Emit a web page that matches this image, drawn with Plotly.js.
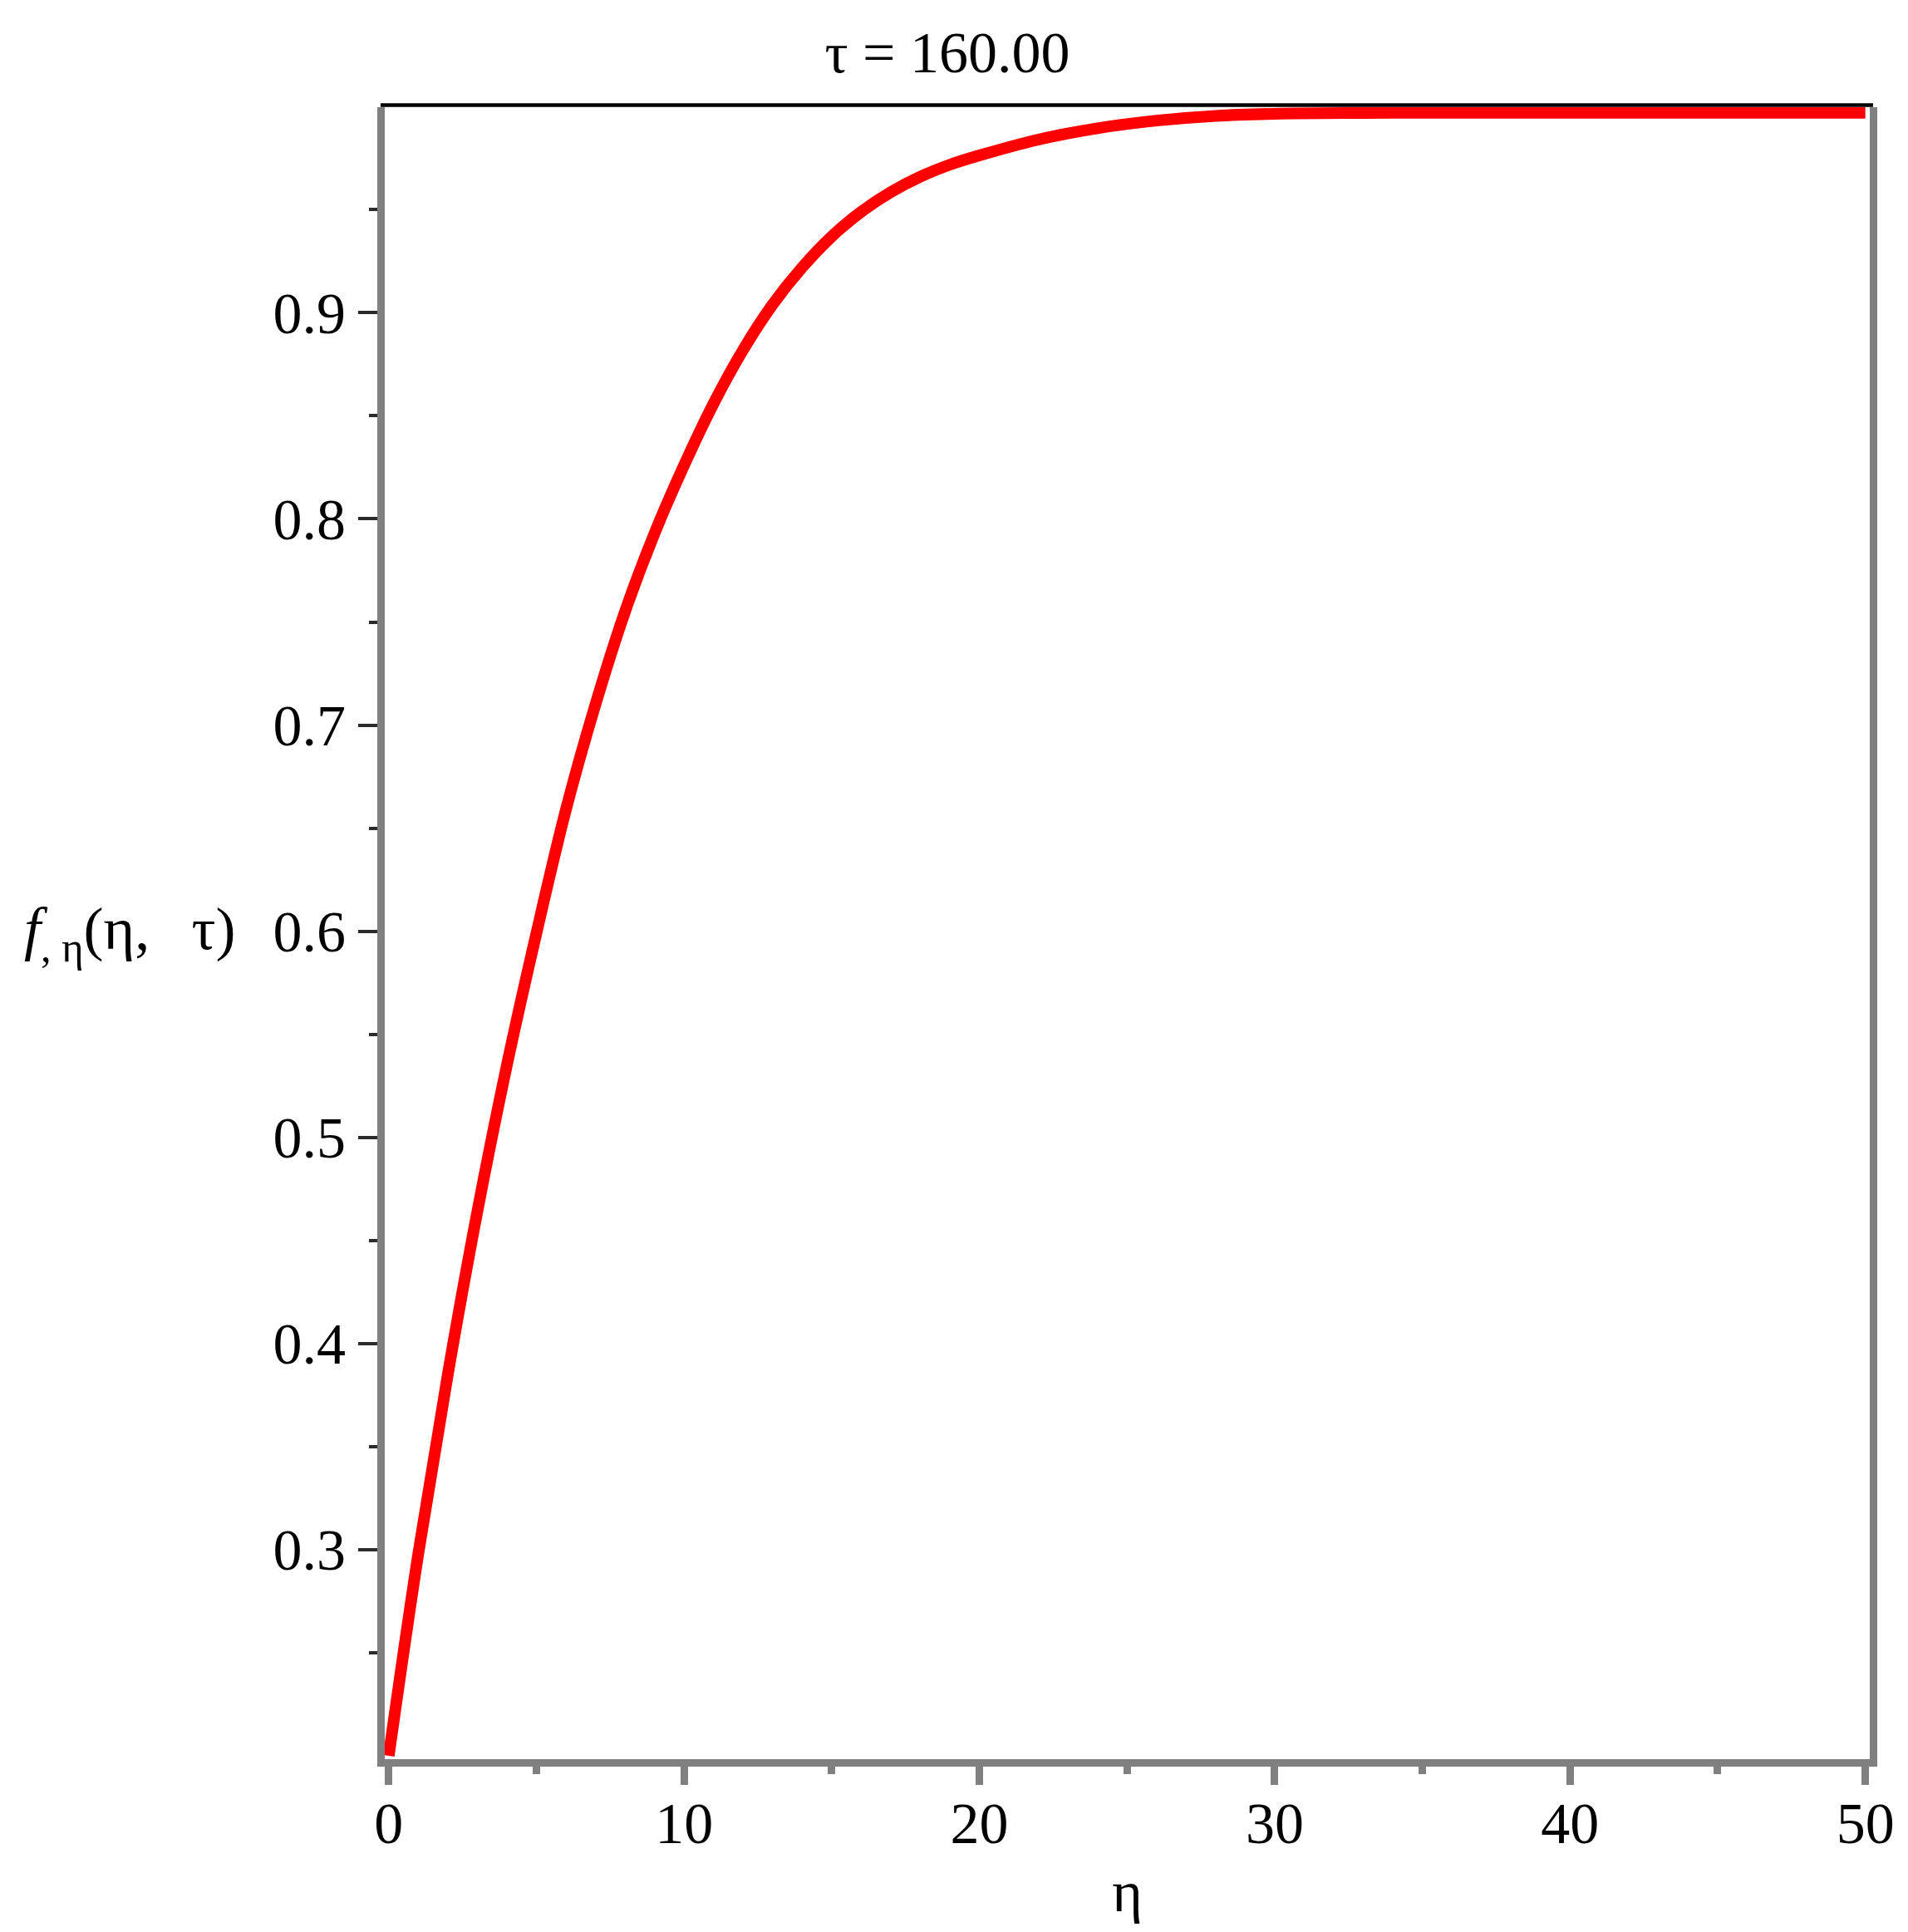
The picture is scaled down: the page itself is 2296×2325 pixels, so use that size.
<!DOCTYPE html>
<html>
<head>
<meta charset="utf-8">
<script src="https://cdn.plot.ly/plotly-3.0.1.min.js"></script>
<style>
  html, body { margin: 0; padding: 0; background: #ffffff; }
  #plot { width: 2296px; height: 2325px; }
</style>
</head>
<body>
<div id="plot"></div>
<script>
// eta values and f_eta(eta, tau) at tau = 160
var eta = [0, 1, 2, 3, 4, 5, 6, 7, 8, 9, 10, 11, 12, 13, 14, 15, 16, 17, 18, 19,
  20, 22, 24, 26, 28, 30, 33, 36, 40, 45, 50];
var fEta = [0.200, 0.298, 0.385, 0.464, 0.535, 0.599, 0.659, 0.710, 0.755, 0.793, 0.826, 0.856, 0.882, 0.904, 0.922, 0.937, 0.949, 0.9585, 0.966, 0.9718,
  0.9763, 0.9840, 0.9895, 0.9932, 0.9955, 0.9965, 0.9969, 0.997, 0.997, 0.997, 0.997];

// tick positions
var xTicks = [0, 10, 20, 30, 40, 50];
var xMinor = [5, 15, 25, 35, 45];
var yTicks = [0.3, 0.4, 0.5, 0.6, 0.7, 0.8, 0.9];
var yMinor = [0.25, 0.35, 0.45, 0.55, 0.65, 0.75, 0.85, 0.95];

var serif = 'Liberation Serif, Times New Roman, serif';

var curve = {
  x: eta,
  y: fEta,
  mode: 'lines',
  line: { color: '#ff0000', width: 14, shape: 'spline', smoothing: 1 },
  hoverinfo: 'skip'
};

var layout = {
  width: 2296,
  height: 2325,
  margin: { l: 463, r: 46, t: 129, b: 208 },
  paper_bgcolor: '#ffffff',
  plot_bgcolor: '#ffffff',
  showlegend: false,
  title: {
    text: 'τ = 160.00',
    font: { family: serif, size: 70, color: '#000000' },
    xref: 'container', x: 0.4965, xanchor: 'center',
    yref: 'container', y: 0.973, yanchor: 'middle'
  },
  xaxis: {
    range: [-0.135, 50.15],
    showgrid: false, zeroline: false,
    showline: true, linecolor: '#808080', linewidth: 9,
    ticks: 'outside', ticklen: 22, tickwidth: 9, tickcolor: '#808080',
    tickmode: 'array', tickvals: xTicks,
    tickfont: { family: serif, size: 70, color: '#000000' },
    ticklabelstandoff: -14,
    minor: { tickmode: 'array', tickvals: xMinor, ticks: 'outside', ticklen: 9, tickwidth: 9, tickcolor: '#808080' },
    title: { text: 'η', font: { family: serif, size: 70, color: '#000000' }, standoff: 22 }
  },
  yaxis: {
    range: [0.1984, 0.9997],
    showgrid: false, zeroline: false,
    showline: true, mirror: true, linecolor: '#808080', linewidth: 9,
    ticks: 'outside', ticklen: 23, tickwidth: 4, tickcolor: '#2b2b2b',
    tickmode: 'array', tickvals: yTicks,
    tickfont: { family: serif, size: 70, color: '#000000' },
    ticklabelstandoff: 1,
    minor: { tickmode: 'array', tickvals: yMinor, ticks: 'outside', ticklen: 10, tickwidth: 4, tickcolor: '#2b2b2b' }
  },
  shapes: [{
    // black frame line along the top
    type: 'line', xref: 'paper', yref: 'paper',
    x0: -0.0028, x1: 1.0022, y0: 1.0013, y1: 1.0013,
    line: { color: '#000000', width: 4.5 }
  }],
  annotations: [{
    text: '<i>f</i><sub>,\u00a0η</sub>(η,\u00a0\u00a0\u2009τ)',
    xref: 'paper', yref: 'paper',
    x: -0.244, xanchor: 'left',
    y: 0.5, yanchor: 'middle',
    showarrow: false,
    font: { family: serif, size: 72, color: '#000000' }
  }]
};

Plotly.newPlot('plot', [curve], layout, { staticPlot: true });
</script>
</body>
</html>
